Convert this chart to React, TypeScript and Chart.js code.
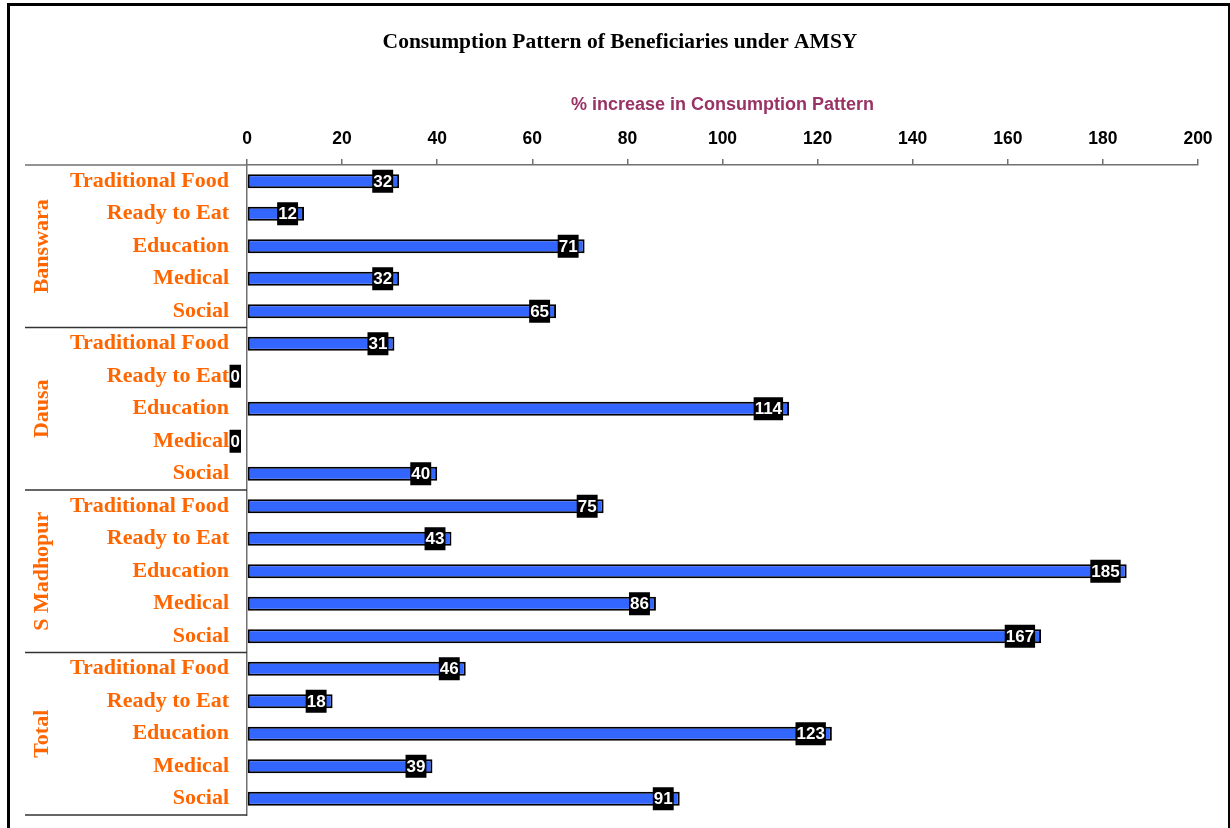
import React, { useEffect, useRef } from "react";
import { Chart, registerables } from "chart.js";

Chart.register(...registerables);

const categories = ["Traditional Food", "Ready to Eat", "Education", "Medical", "Social"];
const groups = ["Banswara", "Dausa", "S Madhopur", "Total"];
const banswara = [32, 12, 71, 32, 65];
const dausa = [31, 0, 114, 0, 40];
const sMadhopur = [75, 43, 185, 86, 167];
const total = [46, 18, 123, 39, 91];
const xMin = 0;
const xMax = 200;
const xStep = 20;

const labels = groups.flatMap(() => categories);
const values = [...banswara, ...dausa, ...sMadhopur, ...total];

const ORANGE = "#FF6600";
const AXIS = "#707070";
const SEP = "#333333";

const framePlugin = {
  id: "frame",
  beforeDraw(chart: any) {
    const ctx = chart.ctx;
    ctx.save();
    ctx.fillStyle = "#ffffff";
    ctx.fillRect(0, 0, chart.width, chart.height);
    ctx.fillStyle = "#000000";
    ctx.fillRect(7, 3, 3, chart.height - 3);
    ctx.fillRect(7, 3, chart.width - 7, 3);
    ctx.fillRect(chart.width - 2, 3, 2, chart.height - 3);
    ctx.restore();
  },
};

const groupPlugin = {
  id: "groups",
  afterDraw(chart: any) {
    const ctx = chart.ctx;
    const area = chart.chartArea;
    const n = values.length;
    const step = (area.bottom - area.top) / n;
    const per = categories.length;
    ctx.save();
    ctx.strokeStyle = AXIS;
    ctx.lineWidth = 1.5;
    ctx.beginPath();
    ctx.moveTo(25, area.top);
    ctx.lineTo(area.left, area.top);
    ctx.stroke();
    ctx.strokeStyle = SEP;
    groups.forEach((g, gi) => {
      const top = area.top + gi * per * step;
      const bottom = top + per * step;
      ctx.beginPath();
      ctx.moveTo(25, bottom);
      ctx.lineTo(area.left, bottom);
      ctx.stroke();
      ctx.save();
      ctx.translate(42, (top + bottom) / 2);
      ctx.rotate(-Math.PI / 2);
      ctx.fillStyle = ORANGE;
      ctx.font = 'bold 22px "Liberation Serif"';
      ctx.textAlign = "center";
      ctx.textBaseline = "middle";
      ctx.fillText(g, 0, 0);
      ctx.restore();
    });
    ctx.restore();
  },
};

const valueLabelPlugin = {
  id: "valueLabels",
  afterDatasetsDraw(chart: any) {
    const ctx = chart.ctx;
    const meta = chart.getDatasetMeta(0);
    ctx.save();
    ctx.font = 'bold 17px "Liberation Sans"';
    ctx.textAlign = "center";
    ctx.textBaseline = "middle";
    meta.data.forEach((bar: any, i: number) => {
      const { x, y } = bar.getProps(["x", "y"], true);
      const text = String(values[i]);
      const w = ctx.measureText(text).width + 2;
      const h = 23;
      const right = x - 6;
      ctx.fillStyle = "#000000";
      ctx.fillRect(right - w, y - h / 2, w, h);
      ctx.fillStyle = "#ffffff";
      ctx.fillText(text, right - w / 2, y + 1);
    });
    ctx.restore();
  },
};

export default function App() {
  const ref = useRef<HTMLCanvasElement | null>(null);
  useEffect(() => {
    if (!ref.current) return;
    const chart = new Chart(ref.current, {
      type: "bar",
      data: {
        labels,
        datasets: [
          {
            data: values,
            backgroundColor: "#3366FF",
            borderColor: "#000000",
            borderWidth: 2,
            borderSkipped: false,
            categoryPercentage: 1,
            barPercentage: 0.43,
          },
        ],
      },
      options: {
        indexAxis: "y",
        responsive: false,
        animation: false,
        layout: { padding: { left: 42, right: 32, top: 0, bottom: 13 } },
        plugins: {
          legend: { display: false },
          tooltip: { enabled: false },
          title: {
            display: true,
            text: "Consumption Pattern of Beneficiaries under AMSY",
            color: "#000000",
            font: { family: "Liberation Serif", size: 21.5, weight: "bold" },
            padding: { top: 30, bottom: 4.2 },
          },
        },
        scales: {
          x: {
            position: "top",
            min: xMin,
            max: xMax,
            ticks: {
              stepSize: xStep,
              autoSkip: false,
              color: "#000000",
              font: { family: "Liberation Sans", size: 17.5, weight: "bold" },
              padding: 9,
            },
            grid: {
              drawOnChartArea: false,
              drawTicks: true,
              tickLength: 6,
              color: AXIS,
              lineWidth: 1.5,
            },
            border: { display: true, color: AXIS, width: 1.5 },
            title: {
              display: true,
              text: "% increase in Consumption Pattern",
              color: "#993366",
              font: { family: "Liberation Sans", size: 18, weight: "bold" },
              padding: { top: 34.2, bottom: 0 },
            },
            afterFit: (s: any) => {
              s.height = 105;
            },
          },
          y: {
            ticks: {
              autoSkip: false,
              color: ORANGE,
              font: { family: "Liberation Serif", size: 22, weight: "bold" },
              padding: 18,
            },
            grid: { display: false, drawTicks: false },
            border: { display: true, color: AXIS, width: 1.5 },
            afterFit: (s: any) => {
              s.width = 205;
              s.paddingTop = 0;
              s.paddingBottom = 0;
            },
          },
        },
      },
      plugins: [framePlugin, groupPlugin, valueLabelPlugin],
    } as any);
    return () => chart.destroy();
  }, []);
  return (
    <div style={{ position: "fixed", left: 0, top: 0, width: 1230, height: 828 }}>
      <canvas ref={ref} width={1230} height={828} style={{ display: "block" }} />
    </div>
  );
}
